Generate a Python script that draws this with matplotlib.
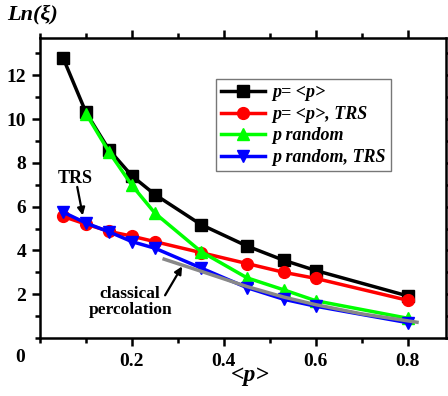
import numpy as np
import matplotlib
matplotlib.use("Agg")
import matplotlib.pyplot as plt
from matplotlib.ticker import MultipleLocator

# data
p_vals = [0.05, 0.1, 0.15, 0.2, 0.25, 0.35, 0.45, 0.53, 0.6, 0.8]
ln_xi_fixed = [12.8, 10.3, 8.6, 7.4, 6.55, 5.18, 4.2, 3.55, 3.08, 1.92]
ln_xi_fixed_trs = [5.55, 5.2, 4.87, 4.65, 4.4, 3.9, 3.4, 3.0, 2.72, 1.72]
p_rand = [0.1, 0.15, 0.2, 0.25, 0.35, 0.45, 0.53, 0.6, 0.8]
ln_xi_rand = [10.25, 8.5, 6.97, 5.7, 3.95, 2.75, 2.2, 1.7, 0.9]
ln_xi_rand_trs = [5.75, 5.25, 4.85, 4.4, 4.1, 3.2, 2.3, 1.77, 1.45, 0.7]
p_classic = [0.27, 0.35, 0.45, 0.53, 0.6, 0.7, 0.82]
ln_xi_classic = [3.6, 3.05, 2.35, 1.87, 1.52, 1.1, 0.72]

serif = "Liberation Serif"
plt.rcParams['font.family'] = serif

fig = plt.figure(figsize=(4.48, 3.96), dpi=100)
ax = fig.add_axes([40/448, 58/396, 406/448, 300/396])

lw = 2.5
ms = 8.5
ax.plot(p_vals, ln_xi_fixed, '-s', color='black', lw=lw, ms=ms, label='p= <p>')
ax.plot(p_vals, ln_xi_fixed_trs, '-o', color='red', lw=lw, ms=ms, label='p= <p>, TRS')
ax.plot(p_rand, ln_xi_rand, '-^', color='#00FF00', lw=lw, ms=ms, label='p random')
ax.plot(p_vals, ln_xi_rand_trs, '-v', color='blue', lw=lw, ms=ms, label='p random, TRS')
ax.plot(p_classic, ln_xi_classic, '-', color='#888888', lw=2.5)

ax.set_xlim(0, 0.883)
ax.set_ylim(0, 13.7)
ax.xaxis.set_minor_locator(MultipleLocator(0.1))
ax.yaxis.set_minor_locator(MultipleLocator(1))
ax.set_xticks([0.2, 0.4, 0.6, 0.8])
ax.set_xticklabels(['0.2', '0.4', '0.6', '0.8'])
ax.set_yticks([2, 4, 6, 8, 10, 12])

for s in ax.spines.values():
    s.set_linewidth(1.8)
ax.tick_params(which='both', direction='out', top=True, right=True, width=1.8,
               labelsize=14)
ax.tick_params(which='major', length=6)
ax.tick_params(which='minor', length=3.5)
ax.tick_params(axis='x', pad=5)
ax.tick_params(axis='y', pad=4)
for lab in ax.get_xticklabels() + ax.get_yticklabels():
    lab.set_fontweight('bold')

fig.text(20/448, 1 - 357/396, '0', fontsize=14, fontweight='bold', ha='center', va='center')
fig.text(7/448, 1 - 14/396, 'Ln(ξ)', fontsize=16, fontweight='bold', style='italic',
         ha='left', va='center')
fig.text(250/448, 1 - 376/396, '<p>', fontsize=17, fontweight='bold', style='italic',
         ha='center', va='center')

ax.text(0.076, 7.3, 'TRS', fontsize=13, fontweight='bold', ha='center', va='center')
ax.annotate('', xy=(0.093, 5.6), xytext=(0.081, 6.9),
            arrowprops=dict(arrowstyle='-|>', color='black', lw=1.6, mutation_scale=11,
                            shrinkA=0, shrinkB=0))
ax.text(0.196, 1.65, 'classical\npercolation', fontsize=12.5, fontweight='bold',
        ha='center', va='center', linespacing=0.95)
ax.annotate('', xy=(0.309, 3.27), xytext=(0.272, 1.95),
            arrowprops=dict(arrowstyle='-|>', color='black', lw=1.6, mutation_scale=11,
                            shrinkA=0, shrinkB=0))

leg = ax.legend(loc='upper left', bbox_to_anchor=(176/406, 1 - 41/300), frameon=True,
                fancybox=False, edgecolor='#555555', handlelength=2.4,
                prop=dict(family=serif, weight='bold', style='italic', size=13),
                labelspacing=0.25, borderpad=0.3, handletextpad=0.4, borderaxespad=0)
leg.get_frame().set_linewidth(1.0)

fig.savefig('out.png', dpi=100)
